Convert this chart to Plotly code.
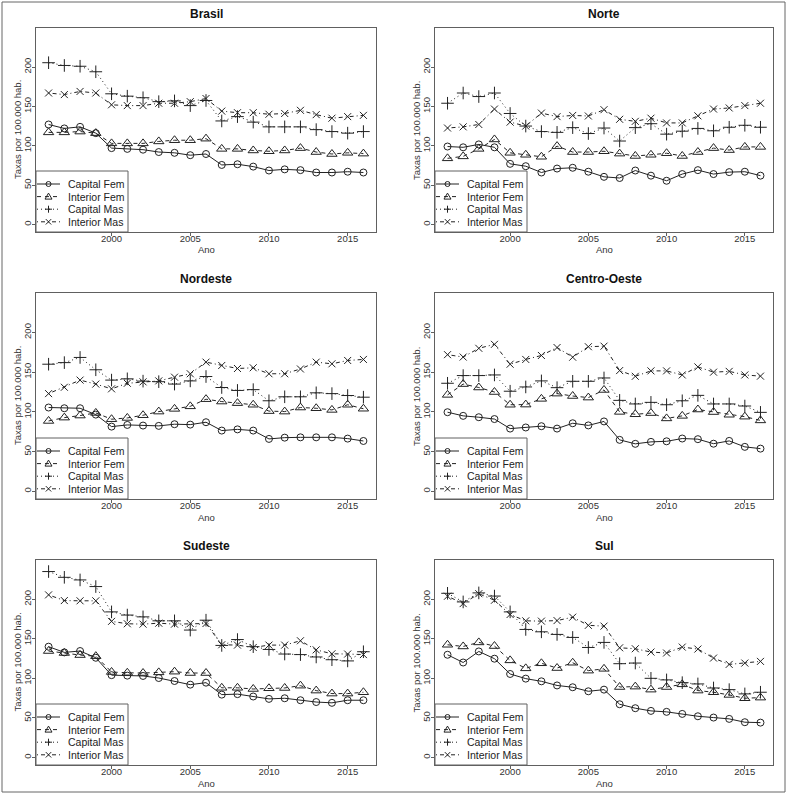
import plotly.graph_objects as go

years = list(range(1996, 2017))
regions = ["Brasil", "Norte", "Nordeste", "Centro-Oeste", "Sudeste", "Sul"]
series_names = ["Capital Fem", "Interior Fem", "Capital Mas", "Interior Mas"]
x_ticks = [2000, 2005, 2010, 2015]
y_ticks = [0, 50, 100, 150, 200]
x_title = "Ano"
y_title = "Taxas por 100.000 hab."

brasil_capital_fem = [127, 122, 124, 116, 97, 96, 95, 92, 91, 88, 89.5, 75.6, 76.5, 73.5, 68.5, 70, 69, 66, 66, 67, 66]
brasil_interior_fem = [117, 117, 118, 116, 103, 103, 103, 105.5, 107, 107, 109, 96, 96, 94, 93, 94, 97, 92, 89.5, 91, 90]
brasil_capital_mas = [205.5, 202, 201, 194, 166, 163, 161, 156, 157, 151, 157.5, 131.5, 137, 130, 124, 124, 124, 120.5, 118, 116, 118]
brasil_interior_mas = [167, 165, 169, 167, 152, 151, 151, 154, 154, 156, 160, 144, 142, 142, 140, 141, 145, 139.5, 135, 137, 138.6]

norte_capital_fem = [99, 98, 101.7, 98, 77, 74, 66, 71, 72, 67, 60.5, 59, 68.5, 62, 55.5, 64, 69, 64, 66.5, 67, 62]
norte_interior_fem = [84, 86.5, 96, 108, 91, 88.5, 86, 99.5, 92, 92, 93, 90, 87, 88.5, 90.5, 87, 92, 97, 94.5, 98.5, 98.5]
norte_capital_mas = [154, 167, 162.5, 167, 141, 125, 118, 117, 123, 115.5, 122.5, 106, 123, 128, 114.7, 118.5, 122, 119, 123.5, 126, 123.5]
norte_interior_mas = [122.5, 124, 127, 146.6, 130, 125, 141.5, 137, 138.5, 137.8, 145.8, 133.6, 131, 135, 129, 129, 138, 146.6, 148, 151, 154]

nordeste_capital_fem = [105.5, 104.6, 104.6, 96.6, 81.5, 83.6, 82.8, 82.4, 84.5, 84, 87, 76.5, 78, 76.5, 66, 67.6, 68, 68, 68, 66.4, 63.4]
nordeste_interior_fem = [88.6, 92.8, 95.4, 98.7, 90.8, 92.4, 95.8, 100.4, 103.8, 107, 116, 113, 111, 109, 101, 100.4, 105.5, 104.6, 102.5, 109, 104]
nordeste_capital_mas = [160, 162, 168.5, 153, 140, 141.6, 138.7, 138, 135, 139, 144.5, 130.7, 127, 128, 114, 119, 119, 124, 123, 120.6, 118.5]
nordeste_interior_mas = [123, 131, 140, 135, 129, 136, 137.8, 139, 143.7, 148, 162.6, 158.4, 154.6, 155.5, 148, 148, 154, 162.6, 160.5, 164.7, 166]

centro_capital_fem = [99.6, 95, 93.3, 91, 79, 80.4, 82, 79, 85.7, 83, 88, 64.8, 59.8, 62.3, 63, 66.5, 65.7, 60, 63.5, 56, 53.8]
centro_interior_fem = [121.4, 135, 130.7, 125, 109, 109.2, 116.4, 123, 120, 118, 127.6, 100, 97, 98.5, 91.8, 95, 103, 99.8, 96.4, 94, 89.3]
centro_capital_mas = [136, 145.7, 145.7, 146.5, 126, 131.4, 139, 130.5, 138.5, 138.5, 142.7, 114.5, 110, 112, 109, 114, 120.8, 110, 110, 107.4, 99.4]
centro_interior_mas = [172, 169, 180, 185, 160, 166, 171, 181, 168.8, 182, 182.7, 152, 144.8, 151.6, 151.6, 146.5, 156.6, 150, 151, 146.5, 145]

sudeste_capital_fem = [140, 132.8, 134.5, 126, 104, 103.4, 103, 100.4, 96.6, 92, 94.5, 79.4, 80, 77, 74, 74.8, 72.3, 70, 69, 72.3, 72.3]
sudeste_interior_fem = [134.5, 132, 129.4, 128, 108, 107, 106.7, 107.5, 108.4, 106.7, 106.7, 88, 88, 86.5, 87.4, 87.8, 90.7, 84.5, 80.7, 80.7, 82.4]
sudeste_capital_mas = [235, 227.7, 224.4, 216, 184, 180, 177.7, 172.7, 172.7, 161, 173.5, 141.6, 149, 140, 136.5, 130.7, 130, 127, 123.5, 122, 133.6]
sudeste_interior_mas = [205.5, 198.3, 198, 198, 172, 169, 168.5, 169.7, 168.5, 169.3, 169.3, 142.4, 142, 139, 142, 142, 147.5, 136, 131, 130.7, 130]

sul_capital_fem = [129.8, 120, 134, 124.8, 105.5, 99.6, 96.2, 91, 88.7, 83.6, 85.7, 67.2, 62.2, 58.8, 57.6, 55, 52, 50.4, 48.7, 44.5, 44]
sul_interior_fem = [142.4, 140.3, 145.4, 140.8, 122.7, 112.6, 119, 113, 119.7, 109.7, 112, 89, 89.5, 85.7, 89, 92.4, 84.5, 82.4, 79, 74.8, 75.6]
sul_capital_mas = [207.5, 196.6, 208, 204, 184, 161.8, 158.8, 155.5, 151.7, 139, 145.4, 118.5, 119.3, 100, 98, 94.5, 92.9, 87.8, 85.7, 80.3, 82.4]
sul_interior_mas = [203.8, 194.5, 207, 198.7, 180.7, 172.7, 172.3, 173, 177.3, 167, 166, 138.6, 137.4, 133.2, 132, 139.5, 137, 125.6, 117.6, 119.3, 121.4]

panel_data = [
    [brasil_capital_fem, brasil_interior_fem, brasil_capital_mas, brasil_interior_mas],
    [norte_capital_fem, norte_interior_fem, norte_capital_mas, norte_interior_mas],
    [nordeste_capital_fem, nordeste_interior_fem, nordeste_capital_mas, nordeste_interior_mas],
    [centro_capital_fem, centro_interior_fem, centro_capital_mas, centro_interior_mas],
    [sudeste_capital_fem, sudeste_interior_fem, sudeste_capital_mas, sudeste_interior_mas],
    [sul_capital_fem, sul_interior_fem, sul_capital_mas, sul_interior_mas],
]

W, H = 786, 794
cols = [(36, 376), (435, 773)]
rows = [(28, 232), (293, 499), (560, 765)]

styles = [
    dict(dash="solid", symbol="circle-open", size=7),
    dict(dash="4px,4px", symbol="triangle-up-open", size=9),
    dict(dash="1px,3px", symbol="cross-thin-open", size=9),
    dict(dash="1px,3px,4px,3px", symbol="x-thin-open", size=7),
]
line_col = "#222222"
box_col = "#606060"
tick_col = "#333333"
font_family = "Liberation Sans, Arial, sans-serif"

fig = go.Figure()
annotations = []
shapes = []
layout = dict(
    width=W, height=H, margin=dict(l=0, r=0, t=0, b=0),
    paper_bgcolor="white", plot_bgcolor="white",
    font=dict(family=font_family, color=tick_col, size=9),
    showlegend=False,
)


def px_x(p):
    return p / W


def px_y(p):
    return 1 - p / H


def seg(xa, ya, xb, yb, dash="solid", col=line_col):
    return dict(type="line", xref="paper", yref="paper", layer="above",
                x0=px_x(xa), y0=px_y(ya), x1=px_x(xb), y1=px_y(yb),
                line=dict(color=col, width=1, dash=dash))


for i, region in enumerate(regions):
    r, c = divmod(i, 2)
    x0, x1 = cols[c]
    top, bot = rows[r]
    sfx = "" if i == 0 else str(i + 1)
    for k, name in enumerate(series_names):
        st = styles[k]
        fig.add_trace(go.Scatter(
            x=years, y=panel_data[i][k], name=name, mode="lines+markers",
            xaxis="x" + sfx, yaxis="y" + sfx,
            line=dict(color=line_col, width=1, dash=st["dash"]),
            marker=dict(symbol=st["symbol"], size=st["size"], color=line_col,
                        line=dict(width=1, color=line_col)),
            showlegend=False, hoverinfo="x+y+name",
        ))
    layout["xaxis" + sfx] = dict(
        domain=[px_x(x0), px_x(x1)], anchor="y" + sfx, range=[1995.2, 2016.8],
        tickvals=x_ticks, ticks="outside", ticklen=3, tickcolor=box_col,
        showline=True, mirror=True, linecolor=box_col, linewidth=1,
        showgrid=False, zeroline=False, tickfont=dict(size=9.5, color=tick_col),
        ticklabelstandoff=-5, fixedrange=True,
    )
    layout["yaxis" + sfx] = dict(
        domain=[px_y(bot), px_y(top)], anchor="x" + sfx, range=[-9.6, 249.6],
        tickvals=y_ticks, ticks="outside", ticklen=3, tickcolor=box_col,
        showline=True, mirror=True, linecolor=box_col, linewidth=1,
        showgrid=False, zeroline=False, tickangle=-90,
        tickfont=dict(size=9.5, color=tick_col), ticklabelstandoff=-3,
        fixedrange=True,
    )
    cx = (x0 + x1) / 2
    annotations.append(dict(
        text="<b>%s</b>" % region, x=px_x(cx), y=px_y(top - 14), xref="paper", yref="paper",
        showarrow=False, xanchor="center", yanchor="middle",
        font=dict(size=12, color="#111111", family=font_family)))
    annotations.append(dict(
        text=x_title, x=px_x(cx), y=px_y(bot + 18), xref="paper", yref="paper",
        showarrow=False, xanchor="center", yanchor="middle",
        font=dict(size=9.5, color=tick_col, family=font_family)))
    annotations.append(dict(
        text=y_title, x=px_x(x0 - 19), y=px_y((top + bot) / 2), xref="paper", yref="paper",
        showarrow=False, xanchor="center", yanchor="middle", textangle=-90,
        font=dict(size=9.5, color=tick_col, family=font_family)))

    # legend box (bottom-left of each panel)
    lt = bot - 61
    shapes.append(dict(type="rect", xref="paper", yref="paper", layer="above",
                       x0=px_x(x0), x1=px_x(x0 + 92), y0=px_y(bot), y1=px_y(lt),
                       fillcolor="white", line=dict(color=box_col, width=1)))
    for k, name in enumerate(series_names):
        yc = lt + 13 + 12.6 * k
        xm = x0 + 12.5
        shapes.append(seg(x0 + 1, yc, x0 + 24, yc, dash=styles[k]["dash"]))
        if k == 0:
            shapes.append(dict(type="circle", xref="paper", yref="paper", layer="above",
                               x0=px_x(xm - 2.5), x1=px_x(xm + 2.5),
                               y0=px_y(yc + 2.5), y1=px_y(yc - 2.5),
                               fillcolor="rgba(0,0,0,0)", line=dict(color=line_col, width=1)))
        elif k == 1:
            path = "M %f %f L %f %f L %f %f Z" % (
                px_x(xm - 3.5), px_y(yc + 2.5), px_x(xm + 3.5), px_y(yc + 2.5),
                px_x(xm), px_y(yc - 3.5))
            shapes.append(dict(type="path", xref="paper", yref="paper", layer="above",
                               path=path, fillcolor="rgba(0,0,0,0)",
                               line=dict(color=line_col, width=1)))
        elif k == 2:
            shapes.append(seg(xm - 3.5, yc, xm + 3.5, yc))
            shapes.append(seg(xm, yc - 3.5, xm, yc + 3.5))
        else:
            shapes.append(seg(xm - 2.7, yc - 2.7, xm + 2.7, yc + 2.7))
            shapes.append(seg(xm - 2.7, yc + 2.7, xm + 2.7, yc - 2.7))
        annotations.append(dict(
            text=name, x=px_x(x0 + 30), y=px_y(yc), xref="paper", yref="paper",
            showarrow=False, xanchor="left", yanchor="middle",
            font=dict(size=10.5, color="#222222", family=font_family)))

shapes.append(dict(
    type="rect", xref="paper", yref="paper", layer="above",
    x0=px_x(2), x1=px_x(785), y0=px_y(792), y1=px_y(2),
    line=dict(color="#666666", width=1)))

layout["annotations"] = annotations
layout["shapes"] = shapes
fig.update_layout(**layout)
fig.write_html("out.html",
               config={"displayModeBar": False},
               post_script="document.body.style.margin='0';document.body.style.overflow='hidden';")
